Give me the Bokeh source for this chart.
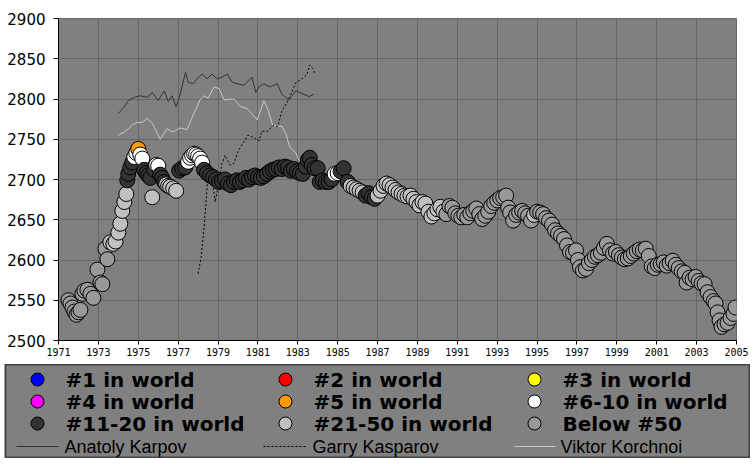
from bokeh.plotting import figure
from bokeh.models import Range1d, FixedTicker, ColumnDataSource
from bokeh.embed import file_html
from bokeh.resources import INLINE
from bokeh.core.properties import value

# ---------------- data ----------------
years = [1971.5, 1971.6, 1971.7, 1971.8, 1971.9, 1972.0, 1972.1, 1972.2, 1972.3, 1972.45,
         1972.6, 1972.75, 1972.95, 1973.1, 1973.2, 1973.35, 1973.45, 1973.6, 1973.75, 1973.86,
         1974.0, 1974.1, 1974.2, 1974.3, 1974.4, 1974.45, 1974.5, 1974.6, 1974.7, 1974.8,
         1974.9, 1975.0, 1975.1, 1975.2, 1975.3, 1975.4, 1975.5, 1975.6, 1975.7, 1975.8,
         1975.9, 1976.0, 1976.1, 1976.2, 1976.3, 1976.4, 1976.5, 1976.6, 1976.75, 1976.9,
         1977.05, 1977.2, 1977.35, 1977.5, 1977.6, 1977.7, 1977.8, 1977.9, 1978.0, 1978.1,
         1978.2, 1978.3, 1978.45, 1978.6, 1978.75, 1978.9, 1979.05, 1979.2, 1979.35, 1979.5,
         1979.65, 1979.8, 1979.95, 1980.1, 1980.25, 1980.4, 1980.55, 1980.7, 1980.85, 1981.0,
         1981.15, 1981.3, 1981.45, 1981.6, 1981.75, 1981.9, 1982.05, 1982.2, 1982.35, 1982.5,
         1982.65, 1982.8, 1982.95, 1983.1, 1983.25, 1983.4, 1983.5, 1983.6, 1983.7, 1983.85,
         1984.0, 1984.1, 1984.25, 1984.4, 1984.55, 1984.7, 1984.85, 1985.0, 1985.15, 1985.3,
         1985.5, 1985.65, 1985.8, 1985.95, 1986.1, 1986.25, 1986.4, 1986.55, 1986.7, 1986.85,
         1987.0, 1987.15, 1987.3, 1987.45, 1987.6, 1987.75, 1987.9, 1988.05, 1988.2, 1988.35,
         1988.5, 1988.65, 1988.8, 1988.95, 1989.1, 1989.25, 1989.4, 1989.55, 1989.7, 1989.85,
         1990.0, 1990.15, 1990.3, 1990.45, 1990.6, 1990.75, 1990.9, 1991.05, 1991.2, 1991.35,
         1991.5, 1991.65, 1991.8, 1991.95, 1992.1, 1992.25, 1992.4, 1992.55, 1992.7, 1992.85,
         1993.0, 1993.15, 1993.3, 1993.45, 1993.55, 1993.65, 1993.8, 1993.95, 1994.1, 1994.25,
         1994.4, 1994.55, 1994.7, 1994.85, 1995.0, 1995.15, 1995.3, 1995.45, 1995.6, 1995.75,
         1995.9, 1996.05, 1996.2, 1996.35, 1996.5, 1996.65, 1996.8, 1996.95, 1997.05, 1997.15,
         1997.3, 1997.45, 1997.6, 1997.75, 1997.9, 1998.05, 1998.2, 1998.35, 1998.5, 1998.65,
         1998.8, 1998.95, 1999.1, 1999.25, 1999.4, 1999.55, 1999.7, 1999.85, 2000.0, 2000.15,
         2000.3, 2000.45, 2000.6, 2000.75, 2000.9, 2001.05, 2001.2, 2001.35, 2001.5, 2001.65,
         2001.8, 2001.95, 2002.1, 2002.25, 2002.4, 2002.5, 2002.65, 2002.8, 2002.95, 2003.1,
         2003.25, 2003.4, 2003.55, 2003.7, 2003.85, 2003.95, 2004.05, 2004.15, 2004.25, 2004.4,
         2004.55, 2004.7, 2004.85, 2004.95]
ratings = [2550, 2546, 2541, 2536, 2532, 2535, 2538, 2558, 2562, 2563,
           2558, 2553, 2588, 2572, 2570, 2614, 2601, 2622, 2620, 2623,
           2634, 2645, 2661, 2672, 2682, 2699, 2707, 2715, 2721, 2728,
           2733, 2738, 2731, 2726, 2712, 2708, 2705, 2702, 2678, 2712,
           2718, 2717, 2706, 2702, 2697, 2694, 2692, 2691, 2689, 2686,
           2711, 2714, 2715, 2722, 2727, 2730, 2732, 2731, 2729, 2726,
           2721, 2712, 2708, 2705, 2703, 2700, 2697, 2698, 2700, 2695,
           2693, 2697, 2699, 2697, 2699, 2702, 2700, 2703, 2705, 2703,
           2702, 2704, 2707, 2710, 2712, 2713, 2715, 2713, 2716, 2715,
           2711, 2713, 2710, 2708, 2707, 2716, 2724, 2727, 2718, 2714,
           2714, 2697, 2699, 2697, 2697, 2700, 2707, 2708, 2710, 2714,
           2697, 2692, 2690, 2688, 2686, 2684, 2680, 2683, 2678, 2676,
           2680, 2686, 2692, 2695, 2693, 2690, 2687, 2684, 2682, 2680,
           2679, 2680, 2676, 2672, 2668, 2672, 2670, 2660, 2654, 2658,
           2663, 2666, 2660, 2657, 2667, 2665, 2658, 2655, 2653, 2656,
           2653, 2658, 2661, 2664, 2657, 2651, 2655, 2660, 2667, 2671,
           2674, 2677, 2678, 2680, 2665, 2659, 2649, 2656, 2659, 2661,
           2658, 2655, 2649, 2656, 2660, 2659, 2657, 2652, 2649, 2644,
           2637, 2633, 2630, 2626, 2618, 2610, 2609, 2612, 2600, 2591,
           2587, 2589, 2596, 2600, 2604, 2606, 2609, 2615, 2620, 2612,
           2608, 2610, 2606, 2603, 2601, 2602, 2605, 2608, 2611, 2613,
           2612, 2614, 2605, 2592, 2590, 2594, 2595, 2597, 2593, 2596,
           2599, 2594, 2590, 2586, 2584, 2572, 2578, 2576, 2579, 2574,
           2571, 2570, 2560, 2554, 2549, 2546, 2535, 2525, 2517, 2520,
           2522, 2528, 2533, 2541]
# rank codes: O = #5, W = #6-10, D = #11-20, M = #21-50, B = below #50
ranks = list("BBBBBBBBBBBBBBBBBMMM"
             "MMMMMDDDDW"
             "WOWWDDDDMD"
             "WWDDDMMMMM"
             "DDDWWWWWWW"
             "WDDDDDDDDD"
             "DDDDDDDDDD"
             "DDDDDDDDDD"
             "DDDDDDDDDD"
             "DDDDDDWWDD"
             "DMMMMMDDDD"
             "MMMMMMMMMM"
             "MMMMMMMMMM"
             "MMMBBBBBBB"
             "BBBBBBBBBB"
             "BBBBBBBBBB"
             "BBBMBBBBBB"
             "BBBBBBBBBB"
             "BBBBBBBBBB"
             "BBBBBBBBBB"
             "BBBBBBBBBB"
             "BBBBBBBBBB"
             "BBBBBBBBBB"
             "BBBBBBBBBB"
             "BBBB")

karpov_years = [1974.0, 1974.3, 1974.5, 1974.8, 1975.1, 1975.45, 1975.7, 1976.0, 1976.3, 1976.5,
                1976.7, 1976.9, 1977.1, 1977.37, 1977.5, 1977.75, 1977.96, 1978.2, 1978.45, 1978.7,
                1978.96, 1979.2, 1979.46, 1979.7, 1979.96, 1980.3, 1980.46, 1980.7, 1980.9, 1981.05,
                1981.3, 1981.6, 1981.97, 1982.2, 1982.55, 1982.9, 1983.2, 1983.55, 1983.8]
karpov_ratings = [2782, 2790, 2798, 2802, 2804, 2802, 2808, 2798, 2810, 2797,
                  2804, 2790, 2806, 2833, 2821, 2819, 2825, 2831, 2825, 2831,
                  2825, 2827, 2831, 2821, 2819, 2817, 2821, 2827, 2808, 2815,
                  2819, 2815, 2819, 2806, 2799, 2810, 2807, 2803, 2806]

korchnoi_years = [1974.0, 1974.3, 1974.5, 1974.7, 1974.95, 1975.2, 1975.45, 1975.7, 1975.9, 1976.1,
                  1976.45, 1976.7, 1977.1, 1977.45, 1977.7, 1978.1, 1978.3, 1978.5, 1978.8, 1979.05,
                  1979.3, 1979.8, 1980.1, 1980.46, 1980.96, 1981.3, 1981.5, 1981.75, 1982.2, 1982.4,
                  1982.6, 1982.9, 1983.1]
korchnoi_ratings = [2755, 2759, 2763, 2768, 2771, 2771, 2776, 2770, 2760, 2750,
                    2763, 2759, 2764, 2762, 2777, 2799, 2804, 2801, 2815, 2813,
                    2799, 2800, 2791, 2788, 2774, 2798, 2787, 2767, 2766, 2757,
                    2740, 2733, 2722]

kasparov_years = [1978.0, 1978.15, 1978.3, 1978.45, 1978.55, 1978.7, 1978.85, 1979.0, 1979.2, 1979.35,
                  1979.6, 1979.8, 1980.0, 1980.25, 1980.5, 1980.8, 1981.05, 1981.2, 1981.5, 1981.75,
                  1982.0, 1982.2, 1982.45, 1982.65, 1982.9, 1983.2, 1983.45, 1983.6, 1983.75, 1983.85]
kasparov_ratings = [2583, 2603, 2640, 2690, 2715, 2705, 2672, 2690, 2720, 2730,
                    2718, 2720, 2735, 2745, 2755, 2752, 2748, 2760, 2760, 2767,
                    2766, 2785, 2795, 2806, 2820, 2825, 2830, 2842, 2838, 2832]

x_ticks = list(range(1971, 2006, 2))
y_ticks = list(range(2500, 2901, 50))

rank_labels = ["#1 in world", "#2 in world", "#3 in world", "#4 in world", "#5 in world",
               "#6-10 in world", "#11-20 in world", "#21-50 in world", "Below #50"]
rank_codes = ["1", "2", "3", "4", "O", "W", "D", "M", "B"]
rank_colors = ["#0000ff", "#ff0000", "#ffff00", "#ff00ff", "#ff9900",
               "#ffffff", "#333333", "#c0c0c0", "#999999"]
line_labels = ["Anatoly Karpov", "Garry Kasparov", "Viktor Korchnoi"]

# ---------------- main chart ----------------
BG = "#808080"
GRID = "#666666"

p = figure(width=750, height=364, output_backend="svg", toolbar_location=None,
           x_range=Range1d(1971, 2005), y_range=Range1d(2500, 2900),
           min_border_left=58, min_border_right=14, min_border_top=18, min_border_bottom=24)
p.background_fill_color = BG
p.border_fill_color = "white"
p.outline_line_color = GRID

p.xaxis.ticker = FixedTicker(ticks=x_ticks)
p.yaxis.ticker = FixedTicker(ticks=y_ticks)
p.xgrid.ticker = FixedTicker(ticks=x_ticks)
p.ygrid.ticker = FixedTicker(ticks=y_ticks)
p.grid.grid_line_color = GRID
p.grid.grid_line_width = 1

for ax in (p.xaxis, p.yaxis):
    ax.axis_line_color = "black"
    ax.major_tick_line_color = "black"
    ax.minor_tick_line_color = None
    ax.major_tick_in = 0
    ax.major_label_text_color = "black"
p.yaxis.major_tick_out = 5
p.yaxis.major_label_standoff = 8
p.yaxis.major_label_text_font = "DejaVu Sans"
p.yaxis.major_label_text_font_size = "15px"
p.xaxis.major_tick_out = 4
p.xaxis.major_label_standoff = 3
p.xaxis.major_label_text_font = "DejaVu Sans Mono"
p.xaxis.major_label_text_font_size = "10px"

p.line(karpov_years, karpov_ratings, line_color="#333333", line_width=1)
p.line(korchnoi_years, korchnoi_ratings, line_color="#c8c8c8", line_width=1)
p.line(kasparov_years, kasparov_ratings, line_color="black", line_width=1, line_dash="2 2")

color_of = dict(zip(rank_codes, rank_colors))
src = ColumnDataSource(dict(x=years, y=ratings, c=[color_of[r] for r in ranks]))
p.scatter("x", "y", source=src, size=15, fill_color="c", line_color="black", line_width=1)

# ---------------- legend panel (separate root, no frame alignment) ----------------
L_W, L_H = 744, 94
lg = figure(width=L_W + 6, height=L_H, output_backend="svg", toolbar_location=None,
            x_axis_type=None, y_axis_type=None,
            x_range=Range1d(0, L_W), y_range=Range1d(L_H, 0),
            min_border_left=5, min_border_right=1, min_border_top=0, min_border_bottom=0)
lg.grid.visible = False
lg.background_fill_color = BG
lg.border_fill_color = "white"
lg.outline_line_color = "#444444"
lg.outline_line_width = 2

col_circle_x = [32, 280, 529]
col_text_x = [60, 308, 557]
row_y = [15, 37, 59]
cx, cy, cc, tx, ty = [], [], [], [], []
for i, (lab, colr) in enumerate(zip(rank_labels, rank_colors)):
    r, c = divmod(i, 3)
    cx.append(col_circle_x[c]); cy.append(row_y[r]); cc.append(colr)
    tx.append(col_text_x[c]); ty.append(row_y[r])
lg.scatter(cx, cy, size=13, fill_color=cc, line_color="black", line_width=1)
lg.text(tx, ty, text=rank_labels, text_font=value("DejaVu Sans"), text_font_style="bold",
        text_font_size="20px", text_baseline="middle", text_align="left", text_color="black")

line_y = 82
seg_x0 = [11, 258, 509]
seg_x1 = [53, 300, 550]
line_colors = ["#333333", "black", "#c8c8c8"]
line_dashes = ["solid", "2 2", "solid"]
for i in range(3):
    lg.line([seg_x0[i], seg_x1[i]], [line_y, line_y], line_color=line_colors[i],
            line_width=1, line_dash=line_dashes[i])
lg.text([59, 307, 555], [line_y] * 3, text=line_labels, text_font=value("Liberation Sans"),
        text_font_size="18px", text_baseline="middle", text_align="left", text_color="black")

open("out.html", "w").write(file_html([p, lg], INLINE))
